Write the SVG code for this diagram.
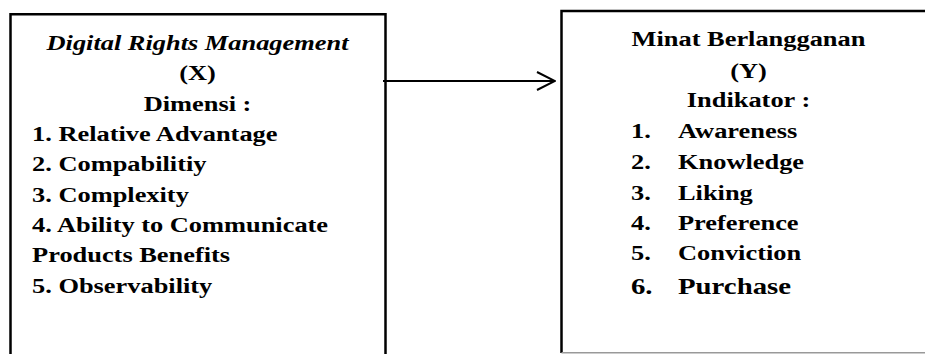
<svg xmlns="http://www.w3.org/2000/svg" width="925" height="354" viewBox="0 0 925 354">
<style>
.box{fill:none;stroke:#000;stroke-width:2.5}
text{font-family:'Liberation Serif','Times New Roman',Tinos,'DejaVu Serif',serif;font-weight:bold;font-size:22px;fill:#000}
.c{text-anchor:middle}
.i{font-style:italic}
.big{font-size:24px}
.conn{stroke:#000;stroke-width:2;fill:none}
</style>
<defs>
<marker id="chev" viewBox="0 0 20 20" refX="19" refY="10" markerWidth="20" markerHeight="20" markerUnits="userSpaceOnUse" orient="auto">
<path d="M1,1 L19,10 L1,19" fill="none" stroke="#000" stroke-width="2"/>
</marker>
</defs>
<rect width="925" height="354" fill="#fff"/>
<g id="node-x">
<path class="box" d="M10.5,360 V14.3 H385.5 V360"/>
<g transform="scale(1.2 1)" font-family="Liberation Serif, serif">
<text class="c i" x="164.6" y="50">Digital Rights Management</text>
<text class="c" x="164.6" y="80">(X)</text>
<text class="c" x="164.6" y="111">Dimensi :</text>
<text x="26.7" y="141">1. Relative Advantage</text>
<text x="26.7" y="171">2. Compabilitiy</text>
<text x="26.7" y="202">3. Complexity</text>
<text x="26.7" y="232">4. Ability to Communicate</text>
<text x="26.7" y="262">Products Benefits</text>
<text x="26.7" y="293">5. Observability</text>
</g>
</g>
<g id="node-y">
<path class="box" d="M935,11 H561.5 V353"/>
<line x1="561.5" y1="352.8" x2="930" y2="352.8" stroke="#999" stroke-width="1.5"/>
<g transform="scale(1.2 1)" font-family="Liberation Serif, serif">
<text class="c" x="623.75" y="46">Minat Berlangganan</text>
<text class="c" x="623.75" y="78">(Y)</text>
<text class="c" x="623.75" y="107">Indikator :</text>
<text x="525.8" y="138">1.</text><text x="565" y="138">Awareness</text>
<text x="525.8" y="169">2.</text><text x="565" y="169">Knowledge</text>
<text x="525.8" y="200">3.</text><text x="565" y="200">Liking</text>
<text x="525.8" y="230">4.</text><text x="565" y="230">Preference</text>
<text x="525.8" y="260">5.</text><text x="565" y="260">Conviction</text>
<text class="big" x="525.8" y="294">6.</text><text class="big" x="565" y="294">Purchase</text>
</g>
</g>
<g id="connectors">
<line class="conn" x1="383" y1="81" x2="555" y2="81" marker-end="url(#chev)"/>
</g>
</svg>
